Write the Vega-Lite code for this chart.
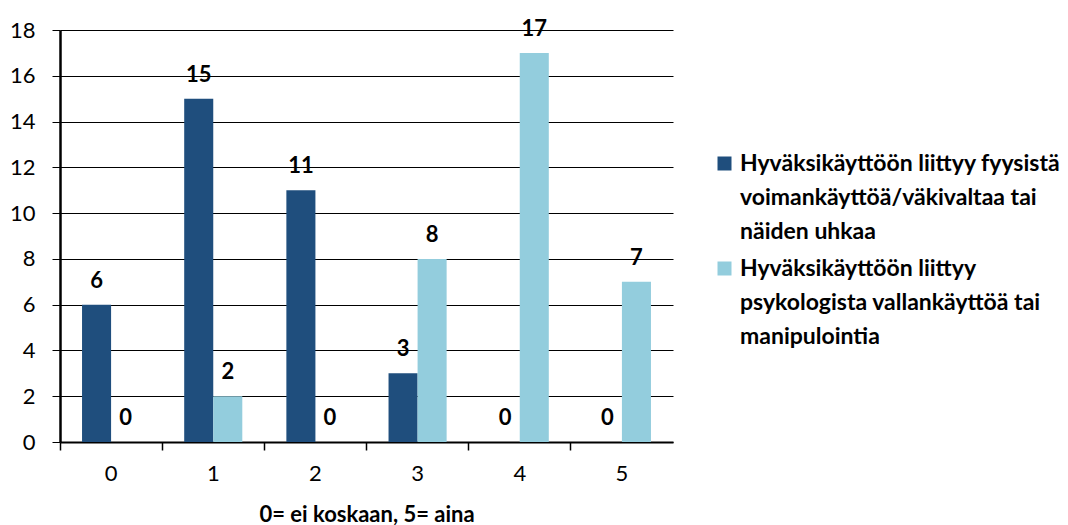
{
  "$schema": "https://vega.github.io/schema/vega-lite/v6.json",
  "autosize": "none",
  "width": 613,
  "height": 412,
  "padding": {"left": 60, "top": 30, "right": 395, "bottom": 83},
  "background": "white",
  "config": {
    "font": "Lato",
    "view": {"stroke": null},
    "axis": {"labelFont": "Lato", "titleFont": "Lato", "labelColor": "black", "titleColor": "black"}
  },
  "data": {
    "values": [
      {"group": "0", "series": "Hyväksikäyttöön liittyy fyysistä voimankäyttöä/väkivaltaa tai näiden uhkaa", "value": 6},
      {"group": "1", "series": "Hyväksikäyttöön liittyy fyysistä voimankäyttöä/väkivaltaa tai näiden uhkaa", "value": 15},
      {"group": "2", "series": "Hyväksikäyttöön liittyy fyysistä voimankäyttöä/väkivaltaa tai näiden uhkaa", "value": 11},
      {"group": "3", "series": "Hyväksikäyttöön liittyy fyysistä voimankäyttöä/väkivaltaa tai näiden uhkaa", "value": 3},
      {"group": "4", "series": "Hyväksikäyttöön liittyy fyysistä voimankäyttöä/väkivaltaa tai näiden uhkaa", "value": 0},
      {"group": "5", "series": "Hyväksikäyttöön liittyy fyysistä voimankäyttöä/väkivaltaa tai näiden uhkaa", "value": 0},
      {"group": "0", "series": "Hyväksikäyttöön liittyy psykologista vallankäyttöä tai manipulointia", "value": 0},
      {"group": "1", "series": "Hyväksikäyttöön liittyy psykologista vallankäyttöä tai manipulointia", "value": 2},
      {"group": "2", "series": "Hyväksikäyttöön liittyy psykologista vallankäyttöä tai manipulointia", "value": 0},
      {"group": "3", "series": "Hyväksikäyttöön liittyy psykologista vallankäyttöä tai manipulointia", "value": 8},
      {"group": "4", "series": "Hyväksikäyttöön liittyy psykologista vallankäyttöä tai manipulointia", "value": 17},
      {"group": "5", "series": "Hyväksikäyttöön liittyy psykologista vallankäyttöä tai manipulointia", "value": 7}
    ]
  },
  "encoding": {
    "x": {
      "field": "group", "type": "nominal",
      "scale": {"paddingInner": 0, "paddingOuter": 0},
      "axis": {
        "title": "0= ei koskaan, 5= aina",
        "titleFontSize": 22, "titleFontWeight": "bold", "titlePadding": 20,
        "labelAngle": 0, "labelFontSize": 22, "labelFontWeight": "normal", "labelPadding": 13,
        "domainColor": "black", "domainWidth": 2,
        "tickColor": "black", "tickWidth": 1.5, "tickSize": 8, "bandPosition": 0,
        "grid": false
      }
    },
    "xOffset": {
      "field": "series", "type": "nominal",
      "scale": {"paddingInner": 0, "paddingOuter": 0.7586}
    },
    "y": {
      "field": "value", "type": "quantitative",
      "scale": {"domain": [0, 18], "nice": false},
      "axis": {
        "title": null, "values": [0, 2, 4, 6, 8, 10, 12, 14, 16, 18],
        "labelFontSize": 22, "labelPadding": 17,
        "domainColor": "black", "domainWidth": 2.5,
        "tickColor": "black", "tickSize": 8, "tickWidth": 1,
        "grid": true, "gridColor": "black", "gridWidth": 1, "gridOpacity": 1
      }
    }
  },
  "layer": [
    {
      "mark": {"type": "bar"},
      "encoding": {
        "color": {
          "field": "series", "type": "nominal",
          "scale": {
            "domain": ["Hyväksikäyttöön liittyy fyysistä voimankäyttöä/väkivaltaa tai näiden uhkaa", "Hyväksikäyttöön liittyy psykologista vallankäyttöä tai manipulointia"],
            "range": ["#1F4E7D", "#93CDDD"]
          },
          "legend": {
            "title": null, "orient": "none", "legendX": 653, "legendY": 122,
            "symbolType": "square", "symbolSize": 196, "symbolStrokeWidth": 0, "symbolOpacity": 1,
            "labelFont": "Lato", "labelFontSize": 23, "labelFontWeight": "bold", "labelColor": "black",
            "labelLimit": 400, "labelOffset": 4, "rowPadding": 13,
            "encode": {"labels": {"update": {"lineHeight": {"value": 34}}}},
            "labelExpr": "indexof(datum.label, 'fyysist') >= 0 ? ['Hyväksikäyttöön liittyy fyysistä', 'voimankäyttöä/väkivaltaa tai', 'näiden uhkaa'] : ['Hyväksikäyttöön liittyy', 'psykologista vallankäyttöä tai', 'manipulointia']"
          }
        }
      }
    },
    {
      "mark": {"type": "text", "dy": -24, "fontSize": 22, "fontWeight": "bold", "color": "black", "baseline": "middle"},
      "encoding": {"text": {"field": "value", "type": "quantitative"}}
    }
  ]
}
